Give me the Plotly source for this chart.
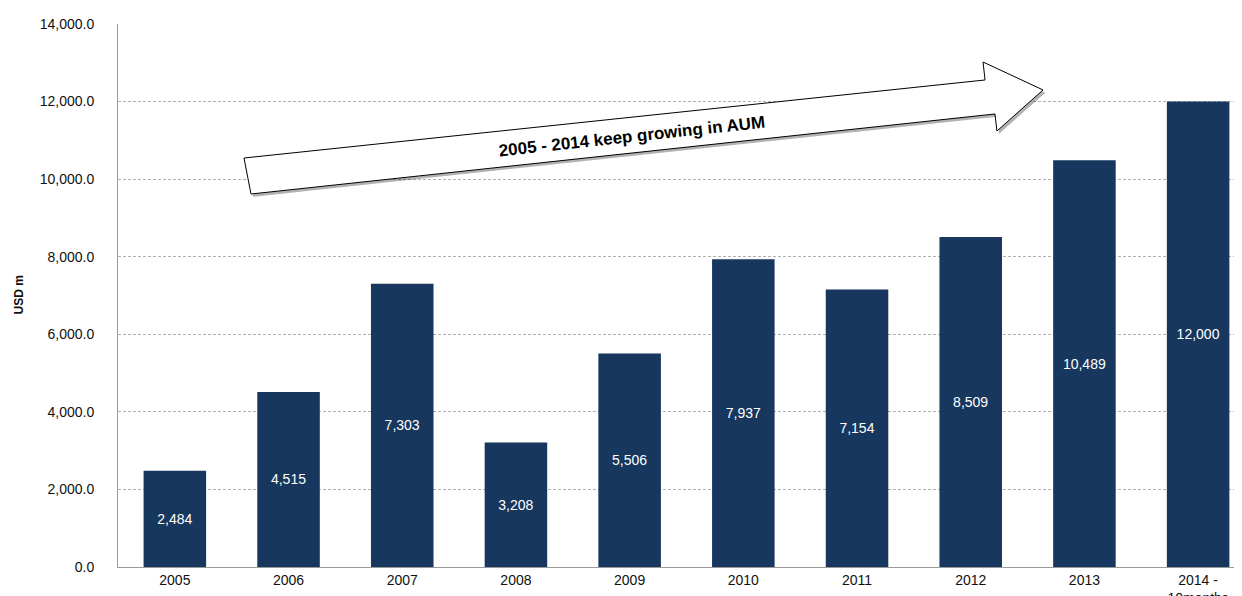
import plotly.graph_objects as go

categories = ["2005", "2006", "2007", "2008", "2009", "2010", "2011", "2012", "2013", "2014 -<br>10months"]
aum_values = [2484, 4515, 7303, 3208, 5506, 7937, 7154, 8509, 10489, 12000]
value_labels = [f"{v:,}" for v in aum_values]
y_ticks = [0, 2000, 4000, 6000, 8000, 10000, 12000, 14000]
arrow_text = "2005 - 2014 keep growing in AUM"
y_title = "USD m"

BAR = "#17375E"
FONT = "Liberation Sans, Arial"

fig = go.Figure()
fig.add_trace(go.Bar(
    x=categories, y=aum_values,
    marker=dict(color=BAR, line=dict(width=0)),
    text=value_labels, textposition="inside", insidetextanchor="middle",
    textfont=dict(color="white", size=14, family=FONT),
    cliponaxis=False, hoverinfo="skip",
))

# arrow (paper coordinates)
pts = [(0.1121, 0.7532), (0.7714, 0.8969), (0.7696, 0.9300), (0.8230, 0.8785),
       (0.7820, 0.8029), (0.7802, 0.8343), (0.1183, 0.6869)]
def path(points, dx=0.0, dy=0.0):
    return "M " + " L ".join(f"{x+dx},{y+dy}" for x, y in points) + " Z"

fig.add_shape(type="path", xref="paper", yref="paper", path=path(pts, 0.002, -0.005),
              fillcolor="rgba(0,0,0,0.3)", line=dict(width=0), layer="above")
fig.add_shape(type="path", xref="paper", yref="paper", path=path(pts),
              fillcolor="white", line=dict(color="black", width=1), layer="above")
fig.add_annotation(xref="paper", yref="paper", x=(632 - 118) / 1124, y=(567 - 136) / 543,
                   xanchor="center", yanchor="middle",
                   text=f"<b>{arrow_text}</b>", showarrow=False, textangle=-6.2,
                   font=dict(size=17, color="black", family=FONT))
fig.add_annotation(xref="paper", yref="paper", x=-(118 - 18) / 1124, y=0.5, text=f"<b>{y_title}</b>",
                   showarrow=False, textangle=-90, xanchor="center", yanchor="middle",
                   font=dict(size=12, color="#111111", family=FONT))

# page body adds an 8px offset: size the figure so the plot area lands at x 118..1242, y 24..567
# the original chart's plot area runs past the right edge, so the category range extends beyond the last bar
fig.update_layout(
    width=1234, height=588,
    margin=dict(l=110, r=0, t=16, b=29),
    paper_bgcolor="white", plot_bgcolor="white",
    bargap=0.45, showlegend=False,
    font=dict(family=FONT, color="#222222"),
    xaxis=dict(
        range=[-0.5, 9.386],
        showline=True, linecolor="#9a9a9a", linewidth=1, showgrid=False,
        ticks="", tickfont=dict(size=14, color="#111111"), fixedrange=True,
        automargin=False,
    ),
    yaxis=dict(
        range=[0, 14000], tickvals=y_ticks, tickformat=",.1f",
        showline=True, linecolor="#9a9a9a", linewidth=1,
        showgrid=True, gridcolor="#b0b0b0", griddash="3px,2px", gridwidth=1,
        zeroline=False, ticks="", ticklabelstandoff=20,
        tickfont=dict(size=14, color="#111111"),
        automargin=False,
    ),
)

fig.write_html("out.html")
